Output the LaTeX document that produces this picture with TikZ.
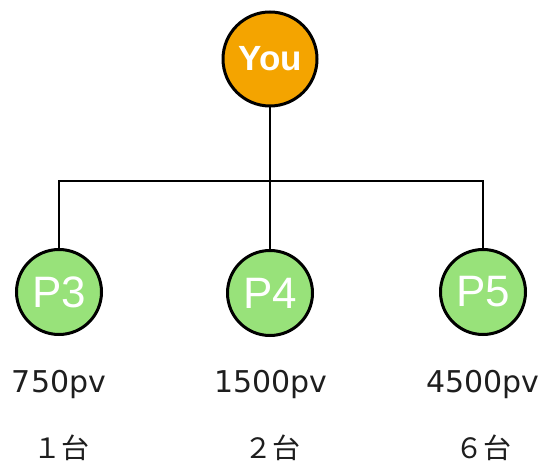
\documentclass[tikz,border=0pt]{standalone}
\usepackage{fontspec}
\setmainfont{Liberation Sans}
\newfontfamily\dvs{DejaVu Sans}
\newfontfamily\cjk{Noto Sans CJK JP}
\definecolor{youorange}{RGB}{244,164,0}
\definecolor{pgreen}{RGB}{152,226,122}
\definecolor{txtgray}{RGB}{30,30,30}
\begin{document}
\begin{tikzpicture}[x=1pt,y=-1pt,
  youbox/.style={circle,draw=black,line width=3pt,fill=youorange,minimum size=94pt,inner sep=0pt,text=white,font=\fontsize{35}{35}\selectfont\bfseries},
  pbox/.style={circle,draw=black,line width=3pt,fill=pgreen,minimum size=85pt,inner sep=0pt,text=white,font=\fontsize{44}{44}\selectfont},
  pvlabel/.style={text=txtgray,font=\dvs\fontsize{30}{30}\selectfont,inner sep=0pt},
  dailabel/.style={text=txtgray,font=\cjk\fontsize{28}{28}\selectfont,inner sep=0pt},
  conn/.style={draw=black,line width=2pt}]
\useasboundingbox (0,0) rectangle (541,462);
\coordinate (j) at (270,181);
\node[youbox] (you) at (270,59) {You};
\node[pbox] (p3) at (59,292) {P3};
\node[pbox] (p4) at (270,293) {P4};
\node[pbox] (p5) at (483,292) {P5};
\draw[conn] (you) -- (j);
\draw[conn] (p3) |- (j) -| (p5);
\draw[conn] (j) -- (p4);
\node[pvlabel] (pv3) at (59,384) {750pv};
\node[pvlabel] (pv4) at (271,384) {1500pv};
\node[pvlabel] (pv5) at (483,384) {4500pv};
\node[dailabel] (d3) at (62,448) {１台};
\node[dailabel] (d4) at (272,448) {２台};
\node[dailabel] (d5) at (483,448) {６台};
\end{tikzpicture}
\end{document}
